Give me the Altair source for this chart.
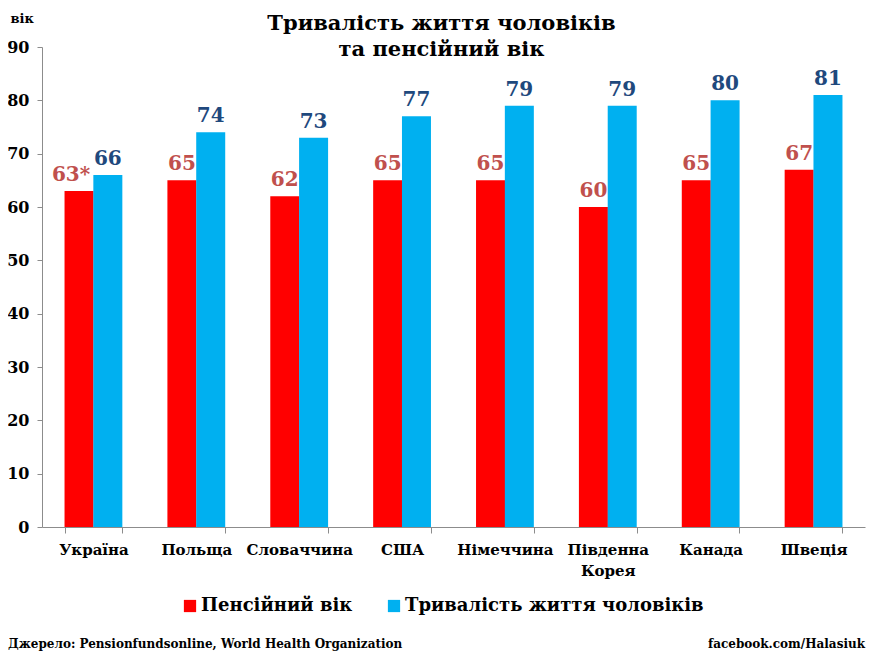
import altair as alt
import pandas as pd

countries = ["Україна", "Польща", "Словаччина", "США", "Німеччина", "Південна Корея", "Канада", "Швеція"]
pension_age = [63, 65, 62, 65, 65, 60, 65, 67]
life_exp = [66, 74, 73, 77, 79, 79, 80, 81]
pension_labels = ["63*", "65", "62", "65", "65", "60", "65", "67"]
life_labels = ["66", "74", "73", "77", "79", "79", "80", "81"]
series = ["Пенсійний вік", "Тривалість життя чоловіків"]
y_ticks = [0, 10, 20, 30, 40, 50, 60, 70, 80, 90]

rows = []
for i, c in enumerate(countries):
    rows.append({"country": c, "series": series[0], "value": pension_age[i], "label": pension_labels[i]})
    rows.append({"country": c, "series": series[1], "value": life_exp[i], "label": life_labels[i]})
df = pd.DataFrame(rows)

FONT = "DejaVu Serif"

x = alt.X("country:N", sort=countries, title=None,
          scale=alt.Scale(paddingInner=0.44, paddingOuter=0.22),
          axis=alt.Axis(labelAngle=0, labelFont=FONT, labelFontWeight="bold", labelFontSize=15,
                        labelColor="#000000", labelPadding=9, tickBand="extent",
                        domainColor="#8c8c8c", tickColor="#8c8c8c", tickSize=6,
                        labelExpr="datum.label == 'Південна Корея' ? ['Південна', 'Корея'] : datum.label",
                        labelLineHeight=21))
y = alt.Y("value:Q", title="вік",
          scale=alt.Scale(domain=[0, 90], nice=False),
          axis=alt.Axis(values=y_ticks, grid=False, labelFont=FONT, labelFontWeight="bold",
                        labelFontSize=16, labelColor="#000000", labelPadding=8,
                        domainColor="#8c8c8c", tickColor="#8c8c8c", tickSize=5,
                        titleAngle=0, titleFont=FONT, titleFontWeight="bold", titleFontSize=13,
                        titleX=-32, titleY=-25, titleAlign="left", titleBaseline="alphabetic"))
color = alt.Color("series:N", sort=series,
                  scale=alt.Scale(domain=series, range=["#ff0000", "#00b0f0"]),
                  legend=alt.Legend(title=None, orient="none", legendX=139, legendY=550,
                                    direction="horizontal", symbolType="square", symbolSize=150,
                                    symbolStrokeWidth=0, labelFont=FONT, labelFontWeight="bold",
                                    labelFontSize=18, labelColor="#000000", columnPadding=32,
                                    labelOffset=2, labelLimit=400))

label_color = alt.Color("series:N", scale=alt.Scale(domain=series, range=["#c0504d", "#1f497d"]), legend=None)

base = alt.Chart(df).encode(x=x, xOffset=alt.XOffset("series:N", sort=series))

bars = base.mark_bar(size=29).encode(y=y, color=color)
labels = base.mark_text(dy=-6, baseline="bottom", font=FONT, fontWeight="bold", fontSize=20).encode(
    y=alt.Y("value:Q"), text="label:N", color=label_color,
).transform_filter("datum.label != '63*'")
labels_star = base.mark_text(dy=-6, dx=-8, baseline="bottom", font=FONT, fontWeight="bold", fontSize=20).encode(
    y=alt.Y("value:Q"), text="label:N", color=label_color,
).transform_filter("datum.label == '63*'")

footer_df = pd.DataFrame({"t": ["Джерело: Pensionfundsonline, World Health Organization"]})
footer_l = alt.Chart(footer_df).mark_text(align="left", baseline="middle", font=FONT, fontWeight="bold",
                                          fontSize=12, color="#000000").encode(
    x=alt.value(-34), y=alt.value(597), text="t:N")
footer_r_df = pd.DataFrame({"t": ["facebook.com/Halasiuk"]})
footer_r = alt.Chart(footer_r_df).mark_text(align="right", baseline="middle", font=FONT, fontWeight="bold",
                                            fontSize=12, color="#000000").encode(
    x=alt.value(823), y=alt.value(597), text="t:N")

chart = alt.layer(bars, labels, labels_star, footer_l, footer_r).resolve_scale(color="independent").properties(
    width=823, height=480,
    title=alt.TitleParams(["Тривалість життя чоловіків", "та пенсійний вік"], font=FONT, fontWeight="bold",
                          fontSize=21, color="#000000", anchor="middle", dx=-12, offset=-48, lineHeight=26),
    autosize=alt.AutoSizeParams(type="none"),
    padding={"left": 34, "top": 39, "right": 4, "bottom": 125},
).configure(background="#ffffff").configure_view(stroke=None)

chart.save("out.html", embed_options={"renderer": "svg", "actions": False})
